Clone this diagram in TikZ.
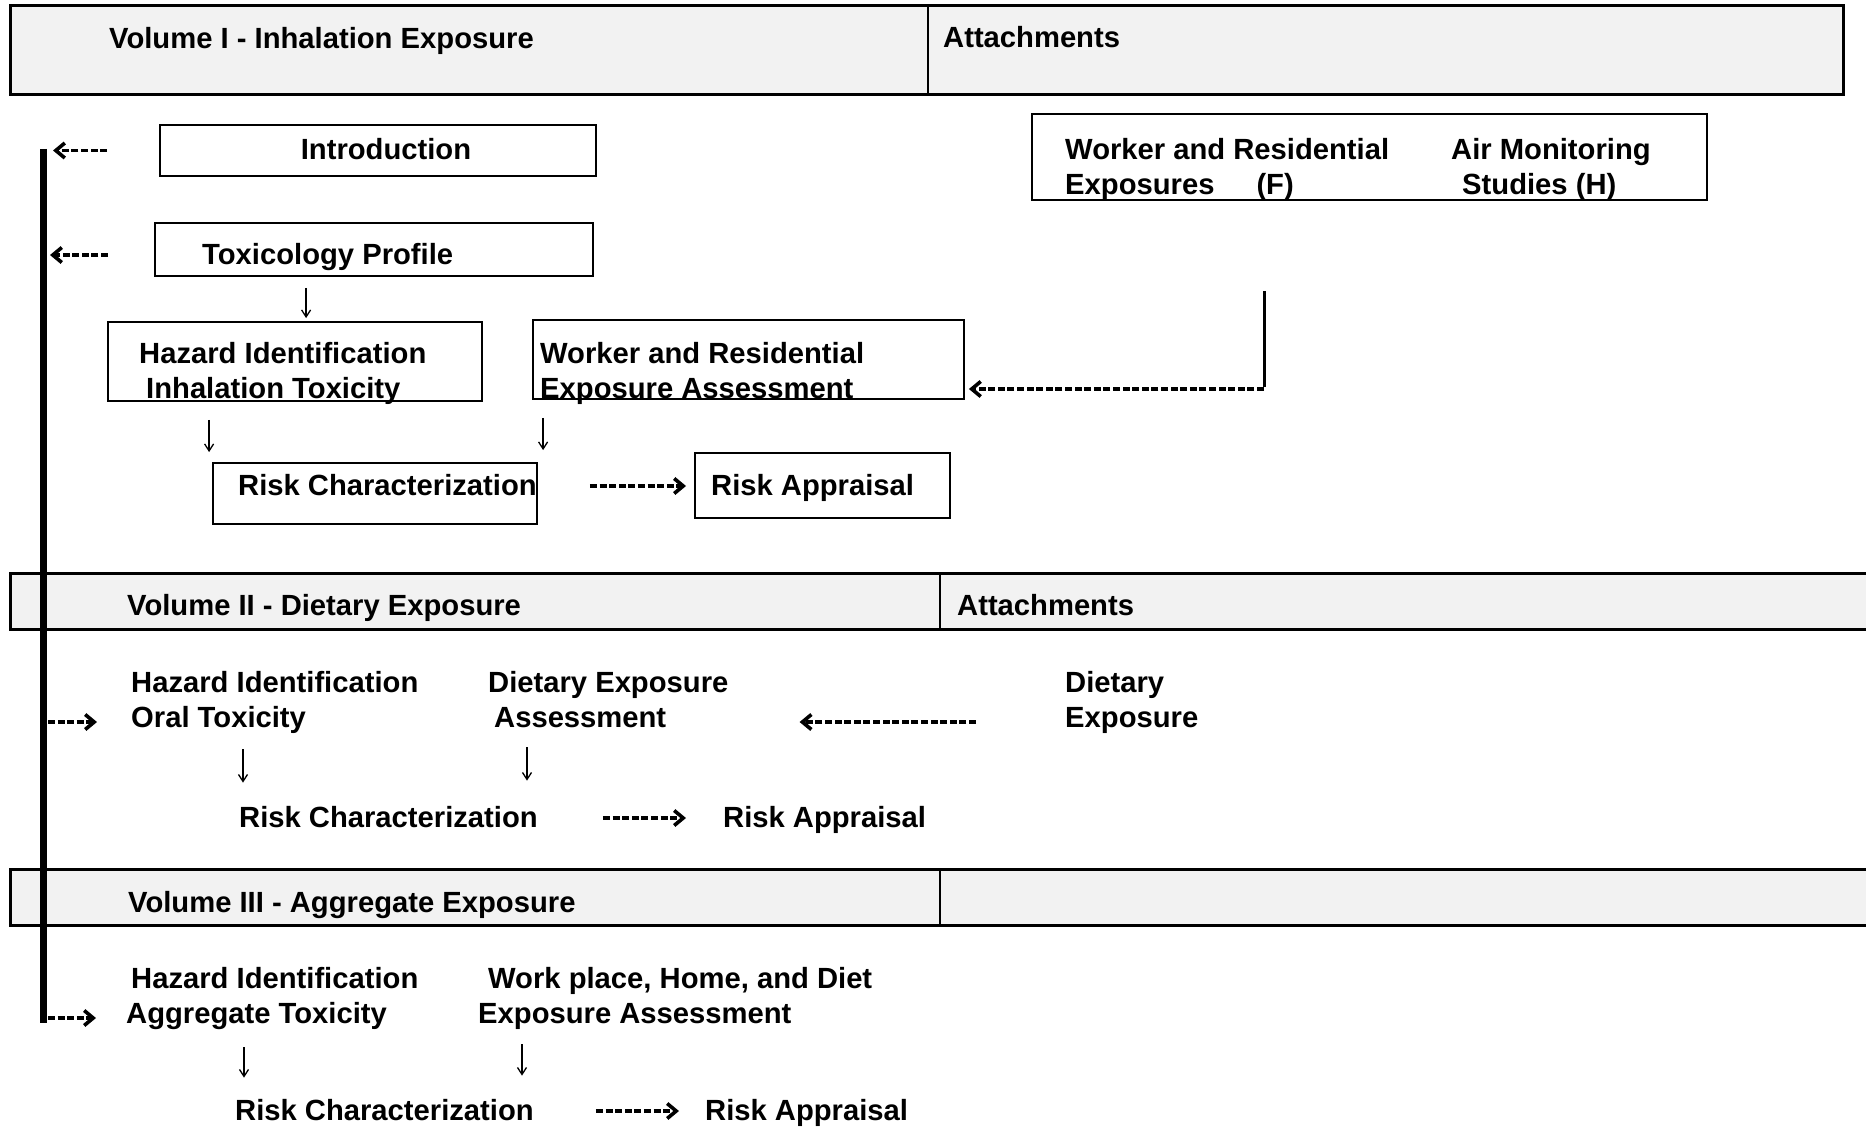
\documentclass[tikz,border=0pt]{standalone}
\usepackage{fontspec}
\setmainfont{Liberation Sans}
\usetikzlibrary{positioning}
\usetikzlibrary{calc}
\usetikzlibrary{arrows.meta}

\definecolor{headgray}{HTML}{F2F2F2}

\tikzset{
  head/.style={draw, line width=3pt, fill=headgray},
  divider/.style={line width=2.2pt},
  box/.style={draw, line width=1.8pt, inner sep=0pt},
  lbl/.style={inner sep=0pt, anchor=base west, align=left, font=\fontsize{29.2pt}{35pt}\selectfont\bfseries},
  dasharrow/.style={line width=3.6pt, dash pattern=on 7pt off 2.6pt, -{Straight Barb[length=9pt,width=15pt]}},
  downarrow/.style={line width=1.3pt, -{Straight Barb[length=7pt,width=9pt]}},
  bar/.style={line width=7pt},
}

\begin{document}
\begin{tikzpicture}[x=1pt, y=-1pt]
            \useasboundingbox (0,0) rectangle (1866,1129);

            % volume headers
            \draw[head] (10,6) rectangle (1843,95);
            \draw[divider] (928,6) -- (928,95);
            \draw[head] (10,573) rectangle (1872,629);
            \draw[divider] (940,573) -- (940,629);
            \draw[head] (10,869) rectangle (1872,925);
            \draw[divider] (940,869) -- (940,925);

            \node[lbl] (vol_1) at (109,49) {Volume I - Inhalation Exposure};
            \node[lbl] (att_1) at (943,48) {Attachments};
            \node[lbl] (vol_2) at (127,615) {Volume II - Dietary Exposure};
            \node[lbl] (att_2) at (957,615) {Attachments};
            \node[lbl] (vol_3) at (128,912) {Volume III - Aggregate Exposure};

            % volume I
            \node[box, minimum width=436pt, minimum height=51pt] (intro_box) at (378,150.5) {};
            \node[lbl, anchor=base] (intro) at (386,160) {Introduction};
            \node[box, minimum width=438pt, minimum height=53pt] (tox_box) at (374,249.5) {};
            \node[lbl] (tox) at (202,264) {Toxicology Profile};
            \node[box, minimum width=374pt, minimum height=79pt] (haz_1_box) at (295,361.5) {};
            \node[lbl] (haz_1) at (139,398) {Hazard Identification\\\hspace*{7pt}Inhalation Toxicity};
            \node[box, minimum width=431pt, minimum height=79pt] (work_1_box) at (748.5,359.5) {};
            \node[lbl] (work_1) at (540,398) {Worker and Residential\\Exposure Assessment};
            \node[box, minimum width=324pt, minimum height=61pt] (risk_1_box) at (375,493.5) {};
            \node[lbl] (risk_1) at (238,495) {Risk Characterization};
            \node[box, minimum width=255pt, minimum height=65pt] (appr_1_box) at (822.5,485.5) {};
            \node[lbl] (appr_1) at (711,495) {Risk Appraisal};

            \node[box, line width=2.6pt, minimum width=675pt, minimum height=86pt] (att_box) at (1369.5,157) {};
            \node[lbl] (wr_att) at (1065,194) {Worker and Residential\\Exposures\hspace*{42pt}(F)};
            \node[lbl] (air_att) at (1451,194) {Air Monitoring\\\hspace*{11pt}Studies (H)};

            % volume II
            \node[lbl] (haz_2) at (131,727) {Hazard Identification\\Oral Toxicity};
            \node[lbl] (diet_2) at (488,727) {Dietary Exposure\\\hspace*{6pt}Assessment};
            \node[lbl] (diet_att) at (1065,727) {Dietary\\Exposure};
            \node[lbl] (risk_2) at (239,827) {Risk Characterization};
            \node[lbl] (appr_2) at (723,827) {Risk Appraisal};

            % volume III
            \node[lbl] (haz_3) at (126,1023) {\hspace*{5pt}Hazard Identification\\Aggregate Toxicity};
            \node[lbl] (work_3) at (478,1023) {\hspace*{10pt}Work place, Home, and Diet\\Exposure Assessment};
            \node[lbl] (risk_3) at (235,1120) {Risk Characterization};
            \node[lbl] (appr_3) at (705,1120) {Risk Appraisal};

            % left bar
            \coordinate (bar_top) at (43,149);
            \coordinate (bar_bot) at (43,1023);
            \coordinate (bar_2) at (43,722);
            \coordinate (bar_3) at (43,1018);
            \draw[bar] (bar_top) -- (bar_bot);

            \draw[dasharrow, shorten <=52pt, shorten >=10pt] (intro_box.west) -- (intro_box.west -| bar_top);
            \draw[dasharrow, shorten <=94pt, shorten >=7pt] ([yshift=9pt]tox.base west) -- ([yshift=9pt]tox.base west -| bar_top);
            \draw[dasharrow, shorten <=5pt, shorten >=34pt] (bar_2) -- (bar_2 -| haz_2.west);
            \draw[dasharrow, shorten <=5pt, shorten >=30pt] (bar_3) -- (bar_3 -| haz_3.west);

            % attachments into volume I and II
            \coordinate (elbow) at (1264,389);
            \draw[line width=3pt, shorten <=90pt, shorten >=2pt] (att_box.south -| elbow) -- (elbow);
            \draw[dasharrow, shorten >=4pt] (elbow) -- (elbow -| work_1_box.east);
            \draw[dasharrow, shorten <=89pt, shorten >=71pt] (diet_att.west |- bar_2) -- (diet_2.east |- bar_2);

            \draw[dasharrow, shorten <=53pt, shorten >=25pt] ([yshift=9pt]risk_1.base east) -- ([yshift=9pt]appr_1.base west);
            \draw[dasharrow, shorten <=65pt, shorten >=37pt] ([yshift=9pt]risk_2.base east) -- ([yshift=9pt]appr_2.base west);
            \draw[dasharrow, shorten <=62pt, shorten >=26pt] ([yshift=9pt]risk_3.base east) -- ([yshift=9pt]appr_3.base west);

            \draw[downarrow, shorten <=11pt, shorten >=3pt] ([xshift=152pt]tox_box.south west) -- ([xshift=152pt]tox_box.south west |- haz_1_box.north);
            \draw[downarrow, shorten <=18pt, shorten >=10pt] ([xshift=102pt]haz_1_box.south west) -- ([xshift=102pt]haz_1_box.south west |- risk_1_box.north);
            \draw[downarrow, shorten <=18pt, shorten >=12pt] ([xshift=11pt]work_1_box.south west) -- ([xshift=11pt]work_1_box.south west |- risk_1_box.north);
            \draw[downarrow, shorten <=16pt, shorten >=23pt] ([xshift=112pt]haz_2.south west) -- ([xshift=112pt]haz_2.south west |- risk_2.north);
            \draw[downarrow, shorten <=20pt, shorten >=25pt] ([xshift=39pt]diet_2.south west) -- ([xshift=39pt]diet_2.south west |- risk_2.north);
            \draw[downarrow, shorten <=18pt, shorten >=21pt] ([xshift=118pt]haz_3.south west) -- ([xshift=118pt]haz_3.south west |- risk_3.north);
            \draw[downarrow, shorten <=15pt, shorten >=23pt] ([xshift=44pt]work_3.south west) -- ([xshift=44pt]work_3.south west |- risk_3.north);
\end{tikzpicture}
\end{document}
